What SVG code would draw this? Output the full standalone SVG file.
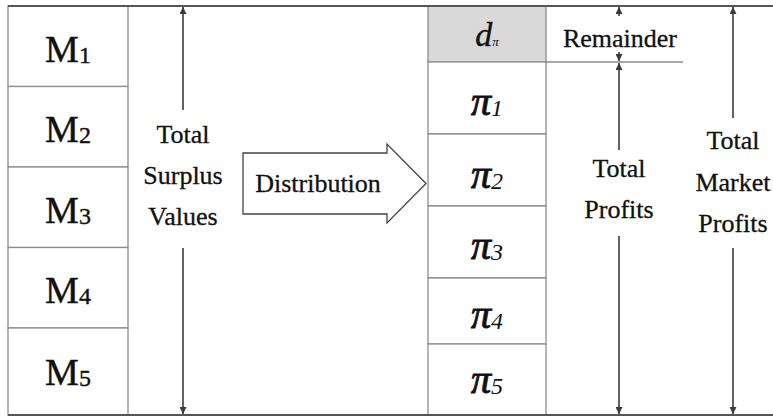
<svg xmlns="http://www.w3.org/2000/svg" width="773" height="417" viewBox="0 0 773 417">
<defs>
<style>
.box{fill:#fff;stroke:#8c8c8c;stroke-width:1.3}
.gray{fill:#d9d9d9;stroke:#8c8c8c;stroke-width:1.3}
.rule{stroke:#555;stroke-width:2;fill:none}
.conn{stroke:#3a3a3a;stroke-width:1.6;fill:none}
.t{font-family:"Liberation Serif","DejaVu Serif",serif;fill:#111;text-anchor:middle}
.lbl{font-size:26px;stroke:#111;stroke-width:0.3}
.m{font-size:38px;stroke:#111;stroke-width:0.4}
.pi{font-size:40px;font-style:italic}
.pg{stroke:#111;stroke-width:0.9}
.sub{font-size:24px}
</style>
<marker id="ah" viewBox="0 0 10 10" refX="10" refY="5" markerWidth="7" markerHeight="7" markerUnits="userSpaceOnUse" orient="auto">
<path d="M0,0 L10,5 L0,10 z" fill="#3a3a3a"/>
</marker>
</defs>
<rect width="773" height="417" fill="#fff"/>

<g id="m1"><rect class="box" x="8" y="6" width="120" height="80.5"/><text class="t m" x="68" y="62">M<tspan font-size="24" dy="1">1</tspan></text></g>
<g id="m2"><rect class="box" x="8" y="86.5" width="120" height="80.5"/><text class="t m" x="68" y="142">M<tspan font-size="24" dy="1">2</tspan></text></g>
<g id="m3"><rect class="box" x="8" y="167" width="120" height="80.5"/><text class="t m" x="68" y="223">M<tspan font-size="24" dy="1">3</tspan></text></g>
<g id="m4"><rect class="box" x="8" y="247.5" width="120" height="80.5"/><text class="t m" x="68" y="303">M<tspan font-size="24" dy="1">4</tspan></text></g>
<g id="m5"><rect class="box" x="8" y="328" width="120" height="87"/><text class="t m" x="68" y="385">M<tspan font-size="24" dy="1">5</tspan></text></g>

<g id="d"><rect class="gray" x="428" y="6" width="118" height="56"/><text class="t" x="487" y="46" font-size="34" font-style="italic" stroke="#111" stroke-width="0.4">d<tspan font-size="13" stroke-width="0">π</tspan></text></g>
<g id="p1"><rect class="box" x="428" y="62" width="118" height="72"/><text class="t pi" x="487" y="115"><tspan class="pg">π</tspan><tspan class="sub" dy="1">1</tspan></text></g>
<g id="p2"><rect class="box" x="428" y="134" width="118" height="72"/><text class="t pi" x="487" y="188"><tspan class="pg">π</tspan><tspan class="sub" dy="1">2</tspan></text></g>
<g id="p3"><rect class="box" x="428" y="206" width="118" height="72"/><text class="t pi" x="487" y="259"><tspan class="pg">π</tspan><tspan class="sub" dy="1">3</tspan></text></g>
<g id="p4"><rect class="box" x="428" y="278" width="118" height="66"/><text class="t pi" x="487" y="328"><tspan class="pg">π</tspan><tspan class="sub" dy="1">4</tspan></text></g>
<g id="p5"><rect class="box" x="428" y="344" width="118" height="71"/><text class="t pi" x="487" y="393"><tspan class="pg">π</tspan><tspan class="sub" dy="1">5</tspan></text></g>

<g id="distribution">
<path d="M243,153 L387,153 L387,144 L426,183.5 L387,223 L387,214 L243,214 Z" fill="#fff" stroke="#444" stroke-width="1.3"/>
<text class="t lbl" x="318" y="192">Distribution</text>
</g>

<g id="surplus-label"><text class="t lbl" x="183" y="143">Total</text><text class="t lbl" x="183" y="184">Surplus</text><text class="t lbl" x="183" y="225">Values</text></g>
<g id="remainder-label"><text class="t lbl" x="620" y="47">Remainder</text></g>
<g id="profits-label"><text class="t lbl" x="619" y="177">Total</text><text class="t lbl" x="619" y="218">Profits</text></g>
<g id="market-label"><text class="t lbl" x="733" y="149">Total</text><text class="t lbl" x="733" y="191">Market</text><text class="t lbl" x="733" y="232">Profits</text></g>

<g id="connectors">
<line class="rule" x1="8" y1="6" x2="773" y2="6"/>
<line class="rule" x1="8" y1="415" x2="773" y2="415"/>
<line class="box" x1="546" y1="62" x2="683" y2="62"/>
<line class="conn" x1="183" y1="110" x2="183" y2="7" marker-end="url(#ah)"/>
<line class="conn" x1="183" y1="248" x2="183" y2="414" marker-end="url(#ah)"/>
<line class="conn" x1="619" y1="16" x2="619" y2="7" marker-end="url(#ah)"/>
<line class="conn" x1="619" y1="52" x2="619" y2="61" marker-end="url(#ah)"/>
<line class="conn" x1="619" y1="150" x2="619" y2="63" marker-end="url(#ah)"/>
<line class="conn" x1="619" y1="236" x2="619" y2="414" marker-end="url(#ah)"/>
<line class="conn" x1="733" y1="118" x2="733" y2="7" marker-end="url(#ah)"/>
<line class="conn" x1="733" y1="248" x2="733" y2="414" marker-end="url(#ah)"/>
</g>
</svg>
